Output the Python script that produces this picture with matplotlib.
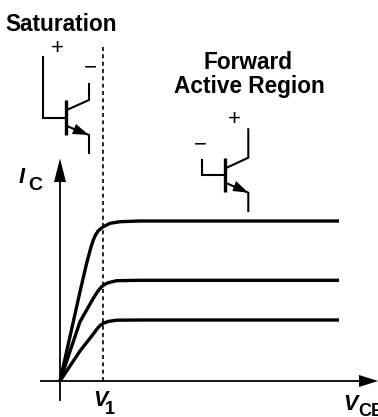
import matplotlib
matplotlib.use('Agg')
import matplotlib.pyplot as plt

plt.rcParams['font.family'] = ['Liberation Sans', 'DejaVu Sans']

# curves, pixels from the origin
vce_top = [0, 10, 20, 26.7, 31, 33.3, 35.5, 38.3, 43.3, 50, 60, 80, 279]
ic_top = [0, 44.6, 89.3, 118, 134, 141, 146, 150.3, 154.3, 157.7, 159.3, 160, 160]
vce_mid = [0, 20, 33.3, 38, 41.7, 45, 48.3, 56.7, 80, 279]
ic_mid = [0, 59.3, 82.7, 90, 94.3, 96.8, 98.3, 100.3, 100.7, 100.7]
vce_low = [0, 20, 33.3, 37, 40, 44, 48.3, 56.7, 80, 279]
ic_low = [0, 30, 47, 52, 55.5, 58, 59.6, 60.8, 61, 61]
v1 = 43.3


def transistor(ax, base, collector, emitter, bar, head):
    ax.plot(*zip(*base), color='k', lw=1.5, solid_joinstyle='miter')
    ax.plot(*zip(*collector), color='k', lw=1.5, solid_joinstyle='miter')
    ax.plot(*zip(*emitter), color='k', lw=1.5, solid_joinstyle='miter')
    ax.plot(*zip(*bar), color='k', lw=2.4, solid_capstyle='butt')
    ax.fill(*zip(*head), color='k', lw=0)


fig = plt.figure(figsize=(3.78, 4.17), dpi=100)

ax = fig.add_axes([0, 0, 1, 1])
ax.set_xlim(-60, 318)
ax.set_ylim(-36, 381)
ax.patch.set_alpha(0)
ax.set_xticks([])
ax.set_yticks([])
ax.spines['top'].set_visible(False)
ax.spines['right'].set_visible(False)
ax.spines['left'].set_position(('data', 0))
ax.spines['bottom'].set_position(('data', 0))
ax.spines['left'].set_bounds(-19, 205)
ax.spines['bottom'].set_bounds(-19, 300)
ax.spines['left'].set_linewidth(1.3)
ax.spines['bottom'].set_linewidth(1.3)

ax.plot(vce_top, ic_top, color='k', lw=2.4, solid_capstyle='butt')
ax.plot(vce_mid, ic_mid, color='k', lw=2.4, solid_capstyle='butt')
ax.plot(vce_low, ic_low, color='k', lw=2.4, solid_capstyle='butt')
ax.plot([v1, v1], [0, 334], color='k', lw=1.2, dashes=(2.4, 2))

# arrow heads
ax.fill([-6, 6, 0], [199, 199, 222.5], color='k', lw=0)
ax.fill([299, 299, 318], [-6, 6, 0], color='k', lw=0)

# schematic layer, in image pixels
sk = fig.add_axes([0, 0, 1, 1])
sk.set_xlim(0, 378)
sk.set_ylim(417, 0)
sk.axis('off')

transistor(sk,
           [(42.7, 56.7), (42.7, 117.7), (65, 117.7)],
           [(66.7, 110), (89, 100), (89, 84)],
           [(66.7, 126), (89, 135), (89, 153)],
           [(65.5, 100), (65.5, 135)],
           [(89, 135), (76, 124), (72, 134)])
transistor(sk,
           [(202, 160), (202, 175.3), (224, 175.3)],
           [(226.7, 167.7), (248.3, 157.7), (248.3, 129.3)],
           [(226.7, 183.3), (248.3, 192.7), (248.3, 211)],
           [(225, 158), (225, 191.7)],
           [(248.3, 192.7), (236, 181), (232.5, 191)])

sk.text(57, 48.5, '+', fontsize=16, ha='center', va='center')
sk.text(90, 68, '\u2212', fontsize=16, ha='center', va='center')
sk.text(234.3, 119, '+', fontsize=16, ha='center', va='center')
sk.text(200, 145, '\u2212', fontsize=16, ha='center', va='center')

sk.text(5, 24, 'Saturation', fontsize=16.3, fontweight='bold', ha='left', va='center')
sk.text(248, 62, 'Forward', fontsize=16.3, fontweight='bold', ha='center', va='center')
sk.text(249, 86, 'Active Region', fontsize=16.3, fontweight='bold', ha='center', va='center')

sk.text(22, 177.5, 'I', fontsize=15.7, fontweight='bold', style='italic', ha='center', va='center')
sk.text(35.5, 185.5, 'C', fontsize=14, fontweight='bold', ha='center', va='center')
sk.text(100.5, 401, 'V', fontsize=15.5, fontweight='bold', style='italic', ha='center', va='center')
sk.text(110, 410, '1', fontsize=13, fontweight='bold', ha='center', va='center')
sk.text(350, 405, 'V', fontsize=15.5, fontweight='bold', style='italic', ha='center', va='center')
sk.text(358, 412, 'CE', fontsize=13, fontweight='bold', ha='left', va='center')

fig.savefig('out.png', dpi=100)
